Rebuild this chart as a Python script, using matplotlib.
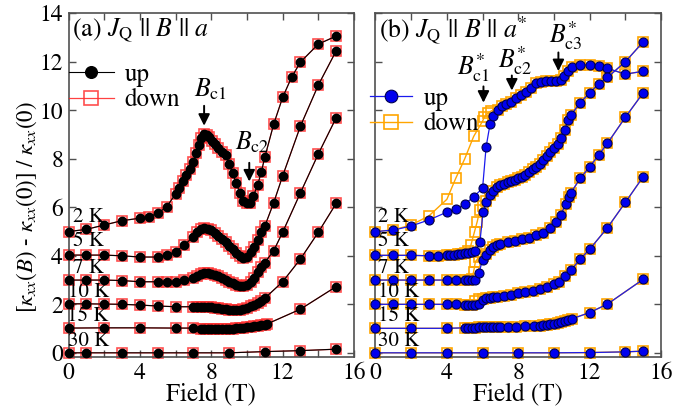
import matplotlib
matplotlib.use('Agg')
import matplotlib.pyplot as plt
from matplotlib.ticker import MultipleLocator

plt.rcParams['font.family'] = ['STIXGeneral', 'DejaVu Serif']
plt.rcParams['mathtext.fontset'] = 'stix'

# ---------------- Panel (a): J_Q || B || a ----------------
a2_x = [0, 1, 2, 3, 4, 4.5, 5, 5.5, 6, 6.2, 6.4, 6.6, 6.8, 7, 7.15, 7.3, 7.45, 7.6, 7.75, 7.9,
        8.05, 8.2, 8.4, 8.6, 8.8, 9, 9.2, 9.4, 9.6, 9.8, 10, 10.15, 10.35, 10.6, 10.8, 11,
        11.5, 12, 12.5, 13, 14, 15]
a2_y = [5.0, 5.09, 5.27, 5.45, 5.55, 5.61, 5.75, 6.02, 6.55, 6.78, 7.1, 7.33, 7.6, 7.88, 8.22,
        8.57, 8.85, 9.02, 8.98, 8.88, 8.75, 8.6, 8.45, 8.3, 8.15, 7.8, 7.4, 7.0, 6.6, 6.28,
        6.16, 6.18, 6.45, 6.92, 7.44, 8.06, 9.43, 10.53, 11.36, 11.99, 12.73, 13.06]

a5_x = [0, 1, 2, 3, 4, 5, 5.5, 6, 6.5, 7.0, 7.2, 7.4, 7.6, 7.8, 8.0, 8.2, 8.4, 8.6, 8.8, 9.0,
        9.2, 9.4, 9.6, 9.8, 10.0, 10.2, 10.4, 10.6, 10.8, 11.0, 11.5, 12, 13, 14, 15]
a5_y = [4.03, 4.03, 4.03, 4.0, 3.95, 3.95, 4.03, 4.17, 4.45, 4.79, 4.98, 5.1, 5.14, 5.12, 5.05,
        4.95, 4.83, 4.7, 4.55, 4.42, 4.28, 4.12, 3.98, 3.9, 3.95, 4.15, 4.35, 4.65, 5.0, 5.22,
        6.19, 7.29, 9.35, 11.04, 12.45]

a7_x = [0, 1, 2, 3, 4, 5, 5.5, 6, 6.5, 7.0, 7.2, 7.4, 7.6, 7.8, 8.0, 8.2, 8.4, 8.6, 8.8, 9.0,
        9.2, 9.4, 9.6, 9.8, 10.0, 10.2, 10.4, 10.6, 10.8, 11.0, 11.5, 12, 13, 14, 15]
a7_y = [3.0, 3.0, 3.0, 2.98, 2.93, 2.93, 2.91, 2.93, 3.0, 3.07, 3.17, 3.24, 3.28, 3.28, 3.26,
        3.22, 3.16, 3.08, 3.0, 2.93, 2.86, 2.8, 2.75, 2.74, 2.8, 2.9, 3.08, 3.33, 3.55, 3.72,
        4.21, 4.97, 6.6, 8.2, 9.69]

a10_x = [0, 1, 2, 3, 4, 5, 6, 7, 7.2, 7.4, 7.6, 7.8, 8.0, 8.2, 8.4, 8.6, 8.8, 9.0, 9.2, 9.4,
         9.6, 9.8, 10.0, 10.2, 10.4, 10.6, 10.8, 11.0, 12, 13, 14, 15]
a10_y = [2.02, 2.02, 2.01, 2.0, 1.97, 1.93, 1.9, 1.9, 1.9, 1.89, 1.89, 1.88, 1.87, 1.86, 1.84,
         1.82, 1.8, 1.78, 1.77, 1.77, 1.78, 1.81, 1.86, 1.92, 1.98, 2.04, 2.13, 2.25, 2.93,
         3.87, 4.97, 6.16]

a15_x = [0, 2, 4, 6, 7, 7.4, 7.6, 7.8, 8.0, 8.2, 8.4, 8.6, 8.8, 9.0, 9.2, 9.4, 9.6, 9.8, 10.0,
         10.2, 10.4, 10.6, 10.8, 11.0, 11.1, 13, 15]
a15_y = [1.02, 1.03, 1.03, 1.02, 1.02, 1.0, 1.0, 0.99, 0.99, 0.99, 0.99, 0.99, 0.99, 1.0, 1.0,
         1.01, 1.02, 1.03, 1.05, 1.07, 1.09, 1.11, 1.13, 1.16, 1.18, 1.8, 2.73]

a30_x = [0, 1, 3, 5, 7, 9, 11, 13, 15]
a30_y = [0, 0, 0, 0, 0, 0, 0.05, 0.09, 0.15]

# ---------------- Panel (b): J_Q || B || a* ----------------
b2_up_x = [0, 1, 2, 3, 4, 4.5, 5, 5.5, 6.0, 6.2, 6.42, 6.6, 6.84, 7.08, 7.3, 7.58, 7.86, 8.14,
           8.42, 8.7, 8.98, 9.26, 9.54, 9.82, 10.1, 10.38, 10.56, 10.79, 11.0, 11.44, 12.0,
           12.5, 13.0, 14.0, 15.0]
b2_up_y = [5.0, 5.06, 5.23, 5.48, 5.8, 5.93, 6.12, 6.44, 6.78, 8.5, 9.43, 9.76, 10.0, 10.17,
           10.28, 10.35, 10.49, 10.63, 10.76, 10.94, 11.11, 11.17, 11.22, 11.22, 11.2, 11.24,
           11.41, 11.63, 11.79, 11.86, 11.88, 11.83, 11.73, 11.49, 11.61]
b2_dn_x = [0, 1, 2, 3, 4, 4.5, 5, 5.5, 6.0, 6.1, 6.3, 6.5, 6.84, 7.08, 7.3, 7.58, 7.86, 8.14,
           8.42, 8.7, 8.98, 9.26, 9.54, 9.82, 10.1, 10.38, 10.56, 10.79, 11.0, 11.44, 12.0,
           12.5, 13.0, 14.0, 15.0]
b2_dn_y = [5.0, 5.07, 5.27, 5.65, 6.33, 7.2, 8.0, 8.92, 9.55, 9.72, 9.88, 9.98, 10.02, 10.17,
           10.28, 10.35, 10.49, 10.63, 10.76, 10.94, 11.11, 11.17, 11.22, 11.22, 11.2, 11.24,
           11.41, 11.63, 11.79, 11.86, 11.88, 11.83, 11.73, 11.49, 11.61]

b5_up_x = [0, 1, 2, 3, 3.5, 4, 4.2, 4.4, 4.6, 4.8, 5.0, 5.2, 5.4, 5.6, 5.85, 6.03, 6.2, 6.4,
           6.6, 6.8, 7.0, 7.2, 7.4, 7.6, 7.8, 8.0, 8.2, 8.4, 8.6, 8.8, 9.0, 9.2, 9.4, 9.6, 9.8,
           10.0, 10.2, 10.4, 10.6, 10.8, 10.95, 11.47, 12.0, 12.5, 13.0, 14.0, 15.0]
b5_up_y = [4.02, 4.02, 4.02, 4.0, 4.0, 4.02, 4.04, 4.05, 4.07, 4.09, 4.11, 4.13, 4.16, 4.2,
           4.56, 5.82, 6.23, 6.5, 6.68, 6.82, 6.92, 6.98, 7.03, 7.08, 7.14, 7.2, 7.26, 7.34,
           7.45, 7.56, 7.67, 7.8, 7.95, 8.12, 8.3, 8.45, 8.6, 8.85, 9.2, 9.58, 9.8, 10.31,
           10.72, 11.08, 11.36, 12.0, 12.82]
b5_dn_x = [0, 1, 2, 3, 3.5, 4, 4.2, 4.4, 4.6, 4.8, 5.0, 5.2, 5.35, 5.55, 5.7, 5.85, 6.03, 6.2,
           6.4, 6.6, 6.8, 7.0, 7.2, 7.4, 7.6, 7.8, 8.0, 8.2, 8.4, 8.6, 8.8, 9.0, 9.2, 9.4, 9.6,
           9.8, 10.0, 10.2, 10.4, 10.6, 10.8, 10.95, 11.47, 12.0, 12.5, 13.0, 14.0, 15.0]
b5_dn_y = [4.02, 4.02, 4.02, 4.0, 4.0, 4.02, 4.04, 4.05, 4.07, 4.09, 4.11, 4.2, 4.45, 5.0,
           5.41, 5.89, 6.05, 6.25, 6.5, 6.68, 6.82, 6.92, 6.98, 7.03, 7.08, 7.14, 7.2, 7.26,
           7.34, 7.45, 7.56, 7.67, 7.8, 7.95, 8.12, 8.3, 8.45, 8.6, 8.85, 9.2, 9.58, 9.8, 10.31,
           10.72, 11.08, 11.36, 12.0, 12.82]

b7_up_x = [0, 1, 2, 3, 4, 4.5, 5.0, 5.2, 5.4, 5.6, 5.8, 6.0, 6.2, 6.4, 6.6, 6.8, 7.0, 7.4, 7.8,
           8.2, 8.6, 9.0, 9.4, 9.8, 10.1, 10.4, 10.66, 10.82, 10.95, 11.47, 12, 12.5, 13, 14, 15]
b7_up_y = [3.0, 3.0, 3.0, 3.0, 3.0, 3.0, 3.0, 3.0, 3.0, 3.0, 3.3, 3.83, 4.05, 4.22, 4.35, 4.45,
           4.5, 4.55, 4.62, 4.68, 4.75, 4.85, 4.95, 5.15, 5.41, 5.7, 6.15, 6.43, 6.6, 7.19,
           7.67, 8.15, 8.64, 9.71, 10.72]
b7_dn_x = [0, 1, 2, 3, 4, 4.5, 5.0, 5.2, 5.4, 5.5, 5.6, 5.8, 6.0, 6.2, 6.4, 6.6, 6.8, 7.0, 7.4,
           7.8, 8.2, 8.6, 9.0, 9.4, 9.8, 10.1, 10.4, 10.66, 10.82, 10.95, 11.47, 12, 12.5, 13,
           14, 15]
b7_dn_y = [3.0, 3.0, 3.0, 3.0, 3.0, 3.0, 3.0, 3.0, 3.05, 3.35, 3.76, 3.95, 4.0, 4.07, 4.22,
           4.35, 4.45, 4.5, 4.55, 4.62, 4.68, 4.75, 4.85, 4.95, 5.15, 5.41, 5.7, 6.15, 6.43,
           6.6, 7.19, 7.67, 8.15, 8.64, 9.71, 10.72]

b10_up_x = [0, 1, 2, 3, 4, 4.5, 5.0, 5.2, 5.4, 5.6, 5.8, 6.0, 6.2, 6.4, 6.6, 6.8, 7.2, 7.6, 8.0,
            8.4, 8.8, 9.2, 9.6, 10.0, 10.3, 10.6, 10.97, 11.47, 12, 13, 14, 15]
b10_up_y = [2.0, 2.0, 2.0, 2.0, 2.0, 2.0, 1.98, 1.97, 1.97, 1.97, 2.0, 2.18, 2.25, 2.28, 2.3,
            2.32, 2.36, 2.4, 2.45, 2.5, 2.55, 2.62, 2.72, 2.83, 2.93, 3.15, 3.42, 3.86, 4.27,
            5.16, 6.2, 7.26]
b10_dn_x = b10_up_x
b10_dn_y = [2.0, 2.0, 2.0, 2.0, 2.0, 2.0, 1.98, 1.97, 1.98, 2.12, 2.2, 2.22, 2.25, 2.28, 2.3,
            2.32, 2.36, 2.4, 2.45, 2.5, 2.55, 2.62, 2.72, 2.83, 2.93, 3.15, 3.42, 3.86, 4.27,
            5.16, 6.2, 7.26]

b15_x = [0, 2, 4, 5.0, 5.2, 5.4, 5.6, 5.8, 6.0, 6.2, 6.4, 6.6, 6.8, 7.0, 7.4, 7.9, 8.4, 8.9,
         9.2, 9.4, 9.6, 9.8, 10.0, 10.2, 10.4, 10.6, 10.8, 11.0, 12, 13, 15]
b15_y = [1.01, 1.01, 1.01, 1.03, 1.03, 1.04, 1.04, 1.05, 1.05, 1.06, 1.06, 1.06, 1.07, 1.07,
         1.07, 1.08, 1.09, 1.11, 1.12, 1.13, 1.15, 1.17, 1.19, 1.22, 1.26, 1.31, 1.36, 1.4,
         1.66, 2.01, 3.03]

b30_x = [0, 2, 4, 6, 8, 10, 12, 14, 15]
b30_y = [0, 0, 0, 0, 0, 0, 0.01, 0.04, 0.07]

temps = ['2 K', '5 K', '7 K', '10 K', '15 K', '30 K']
temp_label_y = [5.6, 4.6, 3.5, 2.52, 1.5, 0.47]

panel_a_up = [(a2_x, a2_y), (a5_x, a5_y), (a7_x, a7_y), (a10_x, a10_y), (a15_x, a15_y), (a30_x, a30_y)]
panel_a_dn = panel_a_up
panel_b_up = [(b2_up_x, b2_up_y), (b5_up_x, b5_up_y), (b7_up_x, b7_up_y), (b10_up_x, b10_up_y),
              (b15_x, b15_y), (b30_x, b30_y)]
panel_b_dn = [(b2_dn_x, b2_dn_y), (b5_dn_x, b5_dn_y), (b7_dn_x, b7_dn_y), (b10_dn_x, b10_dn_y),
              (b15_x, b15_y), (b30_x, b30_y)]

fig = plt.figure(figsize=(6.81, 4.12), dpi=100)
W, H = 681, 412
bot = 1 - 356.7 / H
hgt = 343.4 / H
axA = fig.add_axes([68.5 / W, bot, (354 - 68.5) / W, hgt])
axB = fig.add_axes([375.5 / W, bot, (661 - 375.5) / W, hgt])

FS = 17
spine_col = '#505050'

def style(ax, ylabels):
    ax.set_xlim(0, 16)
    ax.set_ylim(-0.16, 14.0)
    ax.xaxis.set_major_locator(MultipleLocator(4))
    ax.xaxis.set_minor_locator(MultipleLocator(2))
    ax.yaxis.set_major_locator(MultipleLocator(2))
    ax.tick_params(which='both', direction='in', top=True, right=True, length=5,
                   width=1.0, color=spine_col, labelsize=FS)
    ax.tick_params(axis='x', pad=4)
    ax.tick_params(axis='y', pad=4)
    if not ylabels:
        ax.tick_params(axis='y', labelleft=False)
    for s in ax.spines.values():
        s.set_color(spine_col)
        s.set_linewidth(1.2)
    ax.set_xlabel('Field (T)', fontsize=FS + 1, labelpad=-1)

style(axA, True)
style(axB, False)

# panel a
for i, ((xd, yd), (xu, yu)) in enumerate(zip(panel_a_dn, panel_a_up)):
    axA.plot(xd, yd, '-s', color='#ff2020', lw=0.9, ms=7.2, mfc='none', mec='#ff3030',
             mew=1.2, alpha=0.85, clip_on=False, zorder=2, label='down' if i == 0 else None)
    axA.plot(xu, yu, '-o', color='black', lw=0.8, ms=6, mfc='black', mec='black',
             clip_on=False, zorder=3, label='up' if i == 0 else None)
for t, ty in zip(temps, temp_label_y):
    axA.text(1.1, ty, t, fontsize=15, ha='center', va='center')

# panel b
for i, ((xd, yd), (xu, yu)) in enumerate(zip(panel_b_dn, panel_b_up)):
    axB.plot(xd, yd, '-s', color='#ffa500', lw=1.0, ms=7.2, mfc='none', mec='#ffa500',
             mew=1.2, clip_on=False, zorder=2, label='down' if i == 0 else None)
    axB.plot(xu, yu, '-o', color='#1a1aee', lw=0.9, ms=6.5, mfc='#0000ee', mec='#000050',
             mew=0.8, clip_on=False, zorder=3, label='up' if i == 0 else None)
for t, ty in zip(temps, temp_label_y):
    axB.text(0.14, ty, t, fontsize=15, ha='left', va='center')

# titles
axA.text(0.012, 0.95, r'(a) $J_\mathrm{Q}$ || $B$ || $a$', transform=axA.transAxes,
         fontsize=FS + 1.5, ha='left', va='center')
axB.text(0.012, 0.95, r'(b) $J_\mathrm{Q}$ || $B$ || $a^{*}$', transform=axB.transAxes,
         fontsize=FS + 1.5, ha='left', va='center')

# legends
h, l = axA.get_legend_handles_labels()
order = [l.index('up'), l.index('down')]
axA.legend([h[k] for k in order], [l[k] for k in order], loc='upper left',
           bbox_to_anchor=(0.0, 0.855), frameon=False, fontsize=FS + 1, markerscale=1.4,
           handlelength=1.8, handletextpad=0.45, borderpad=0, borderaxespad=0,
           labelspacing=0.05)
h, l = axB.get_legend_handles_labels()
order = [l.index('up'), l.index('down')]
axB.legend([h[k] for k in order], [l[k] for k in order], loc='upper left',
           bbox_to_anchor=(-0.02, 0.785), frameon=False, fontsize=FS + 1, markerscale=1.4,
           handlelength=1.7, handletextpad=0.45, borderpad=0, borderaxespad=0,
           labelspacing=0.05)

# arrows
arrow_kw = dict(arrowstyle='-|>', color='black', lw=1.4, mutation_scale=17)
def arrow(ax, x, y0, y1, label, tx, ty):
    ax.annotate('', xy=(x, y1), xytext=(x, y0), arrowprops=arrow_kw)
    ax.text(tx, ty, label, fontsize=FS + 1.5, ha='center', va='center')

arrow(axA, 7.6, 10.3, 9.25, r'$B_\mathrm{c1}$', 7.95, 10.85)
arrow(axA, 10.13, 7.95, 6.95, r'$B_\mathrm{c2}$', 10.3, 8.65)
arrow(axB, 6.05, 11.1, 10.2, r'$B^{*}_\mathrm{c1}$', 5.5, 11.75)
arrow(axB, 7.64, 11.55, 10.7, r'$B^{*}_\mathrm{c2}$', 7.85, 12.05)
arrow(axB, 10.25, 12.5, 11.5, r'$B^{*}_\mathrm{c3}$', 10.65, 13.1)

fig.text(27 / W, 1 - 207 / H, r'[$\kappa_{xx}(B)$ - $\kappa_{xx}(0)$] / $\kappa_{xx}(0)$',
         rotation=90, fontsize=16.5, ha='center', va='center')

fig.savefig('out.png', dpi=100)
